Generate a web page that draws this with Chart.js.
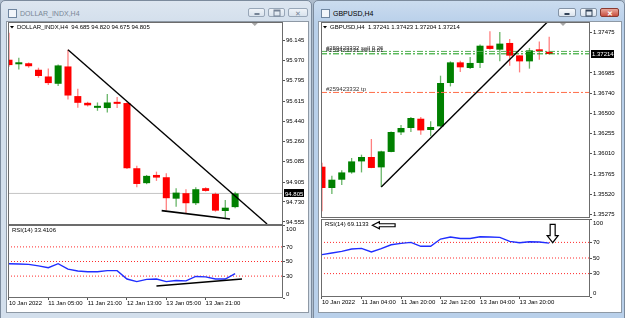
<!DOCTYPE html>
<html><head><meta charset="utf-8">
<script src="https://cdn.jsdelivr.net/npm/chart.js@4.4.1/dist/chart.umd.min.js"></script>
<style>
html,body{margin:0;padding:0;}
body{width:625px;height:318px;position:relative;overflow:hidden;background:#aebccc;font-family:"Liberation Sans",Arial,sans-serif;}
.win{position:absolute;box-sizing:border-box;border:1px solid #7c8b9d;border-radius:5px 5px 0 0;}
.win.inactive{background:linear-gradient(#dde6f0,#d3dfec 22px,#d3dfec);}
.win.active{background:linear-gradient(#cbdcef,#b9d0ea 22px,#b9d0ea);}
.client{position:absolute;background:#fff;box-sizing:border-box;border:1px solid #8e99a5;}
.title{position:absolute;top:8px;font-size:7px;line-height:9px;white-space:nowrap;}
.icon{position:absolute;top:8px;width:7px;height:7px;border:1px solid #6f86a0;background:#f2f6fb;}
.btn{position:absolute;top:7px;height:9px;box-sizing:border-box;border:1px solid #8393a6;border-radius:2px;background:linear-gradient(#f7f9fc,#dbe4ee);}
.btn.close{background:linear-gradient(#e8a79c,#c94f3f);border-color:#8a3a30;}
.win.inactive .btn{opacity:.75}
.glyph{position:absolute;left:50%;top:50%;transform:translate(-50%,-50%);}
canvas{position:absolute;}
</style>
</head><body>

<div class="win inactive" style="left:0;top:0;width:312px;height:322px;">
  <div class="icon" style="left:7px;"></div>
  <div class="title" style="left:19px;color:#7a8796;">DOLLAR_INDX,H4</div>
  <div class="btn" style="left:247px;width:17px;"><div class="glyph" style="width:5px;height:2px;background:#55657a;margin-top:1px;"></div></div>
  <div class="btn" style="left:267px;width:17px;"><div class="glyph" style="width:5px;height:4px;border:1px solid #55657a;border-top-width:2px;"></div></div>
  <div class="btn" style="left:287px;width:20px;"><div class="glyph" style="font-size:7px;color:#55657a;line-height:7px;">✕</div></div>
</div>
<div class="client" style="left:6px;top:21px;width:303px;height:292px;"></div>

<div class="win active" style="left:313px;top:0;width:312px;height:322px;">
  <div class="icon" style="left:7px;"></div>
  <div class="title" style="left:19px;color:#000;">GBPUSD,H4</div>
  <div class="btn" style="left:244px;width:18px;"><div class="glyph" style="width:5px;height:2px;background:#33445a;margin-top:1px;"></div></div>
  <div class="btn" style="left:266px;width:17px;"><div class="glyph" style="width:5px;height:4px;border:1px solid #33445a;border-top-width:2px;"></div></div>
  <div class="btn close" style="left:286px;width:19px;"><div class="glyph" style="font-size:7px;color:#fff;line-height:7px;font-weight:bold;">✕</div></div>
</div>
<div class="client" style="left:318px;top:21px;width:304px;height:292px;"></div>

<canvas id="mainL" width="300" height="203" style="left:8px;top:22px;"></canvas>
<canvas id="rsiL" width="300" height="86" style="left:8px;top:225px;"></canvas>
<canvas id="mainR" width="301" height="196" style="left:321px;top:22px;"></canvas>
<canvas id="rsiR" width="301" height="91" style="left:321px;top:219px;"></canvas>

<script>
// ---------------- DATA ----------------
// DOLLAR_INDX, H4
const usdxOpen  = [95.978,95.938,95.947,95.890,95.831,95.767,95.919,95.659,95.600,95.556,95.554,95.606,95.598,95.026,94.895,94.967,94.947,94.759,94.807,94.719,94.851,94.801,94.651,94.685];
const usdxHigh  = [96.215,95.996,95.954,95.908,95.902,95.937,96.066,95.723,95.609,95.603,95.677,95.650,95.605,95.047,94.967,94.996,94.982,94.851,94.842,94.859,94.859,94.812,94.748,94.820];
const usdxLow   = [95.917,95.893,95.908,95.820,95.756,95.747,95.629,95.556,95.568,95.530,95.515,95.554,95.020,94.859,94.886,94.915,94.656,94.689,94.631,94.704,94.821,94.645,94.587,94.675];
const usdxClose = [95.931,95.950,95.921,95.835,95.773,95.928,95.664,95.600,95.578,95.565,95.603,95.591,95.026,94.888,94.959,94.944,94.763,94.812,94.719,94.842,94.827,94.654,94.680,94.805];
const usdxRsi   = [47,46.5,46,44,41.5,47,39.5,37,36,36,37.5,37.5,26,22.5,25.5,26,22.5,24,23.5,29.5,29,26,26,33.4106];
const usdxPriceTicks = [96.145,95.970,95.795,95.615,95.440,95.260,95.085,94.905,94.730,94.555];
const usdxDateTicks  = [0,4,8,12,16,20];
const usdxDateLabels = ["10 Jan 2022","11 Jan 05:00","11 Jan 21:00","12 Jan 13:00","13 Jan 05:00","13 Jan 21:00"];
const usdxTrendUpper = [[6,96.066],[26.25,94.537]];
const usdxTrendLower = [[15.53,94.654],[22.48,94.581]];
const usdxRsiTrend   = [[15.0,16.5],[23.7,26]];

// GBPUSD, H4
const gbpOpen  = [1.35854,1.35597,1.35697,1.35785,1.35918,1.35971,1.35846,1.36032,1.36268,1.36321,1.36433,1.36297,1.36341,1.36864,1.37113,1.37045,1.37106,1.37314,1.37266,1.37347,1.37197,1.37125,1.37266,1.37241];
const gbpHigh  = [1.35902,1.35746,1.35810,1.35959,1.35999,1.36188,1.36047,1.36280,1.36357,1.36454,1.36454,1.36401,1.36952,1.37125,1.37133,1.37178,1.37327,1.37487,1.37480,1.37395,1.37200,1.37287,1.37366,1.37423];
const gbpLow   = [1.35315,1.35525,1.35633,1.35770,1.35785,1.35836,1.35609,1.36027,1.36237,1.36273,1.36240,1.36220,1.36333,1.36823,1.36997,1.37033,1.37045,1.37266,1.37125,1.37073,1.36992,1.37037,1.37146,1.37204];
const gbpClose = [1.35597,1.35697,1.35785,1.35918,1.35971,1.35839,1.36039,1.36273,1.36321,1.36442,1.36292,1.36333,1.36864,1.37113,1.37053,1.37106,1.37314,1.37275,1.37339,1.37194,1.37125,1.37258,1.37246,1.37214];
const gbpRsi   = [54.3,56.4,58.5,61.5,62.3,57.7,62,67,68.7,70,65,65,74.3,76.9,75,75,77.3,76.9,76.5,71.3,69.6,70.9,70.5,69.1133];
const gbpPriceTicks = [1.37475,1.36985,1.36740,1.36500,1.36255,1.36010,1.35765,1.35520,1.35275];
const gbpDateTicks  = [0,4,8,12,16,20];
const gbpDateLabels = ["10 Jan 2022","11 Jan 04:00","11 Jan 20:00","12 Jan 12:00","13 Jan 04:00","13 Jan 20:00"];
const gbpTrend = [[6,1.35609],[22.82,1.37600]];
const gbpOrderLevels = [1.37245,1.37216];
const gbpOrderLabels = ["#259423332 sell 0.26","#259423331 sell 0.01"];
const gbpTpLevel = 1.36750;
const gbpTpLabel = "#259423332 tp";
const rsiLevels = [70,50,30];
const rsiTicks  = [100,70,50,30,0];
const gbpArrowLeft = {x0:5.1, x1:7.4, y:92};
const gbpArrowDown = {x:23.35, y0:93, y1:69.6};

// ---------------- HELPERS ----------------
const FONT = '"Liberation Sans", Arial, sans-serif';
const RED = '#ff0000', GREEN = '#008000';

function candleSets(O,H,L,C){
  const up = O.map((o,i)=>C[i]>=o);
  return [
    {type:'bar', data:O.map((o,i)=>({x:i,y:[o,C[i]]})), backgroundColor:up.map(u=>u?GREEN:RED),
     borderWidth:0, barThickness:7, grouped:false, minBarLength:2, inflateAmount:0, order:2},
    {type:'bar', data:H.map((h,i)=>({x:i,y:[L[i],h]})), backgroundColor:up.map(u=>u?'rgba(40,150,40,0.7)':'rgba(255,60,60,0.65)'),
     borderWidth:0, barThickness:1.3, grouped:false, inflateAmount:0, order:3},
  ];
}
function seg(pts,color,width,dash,order){
  return {type:'line', data:pts.map(p=>({x:p[0],y:p[1]})), borderColor:color, borderWidth:width,
          borderDash:dash||[], pointRadius:0, fill:false, order:order===undefined?0:order};
}
function hline(v,xmin,xmax,color,dash,order){ return seg([[xmin,v],[xmax,v]],color,1,dash,order); }

const framePlugin = {
  id:'frame',
  afterDraw(chart){
    const a = chart.chartArea, c = chart.ctx;
    c.save(); c.strokeStyle = '#6c6c6c'; c.lineWidth = 1;
    c.strokeRect(Math.round(a.left)+0.5, Math.round(a.top)+0.5, Math.round(a.right-a.left)-1, Math.round(a.bottom-a.top)-1);
    c.restore();
  }
};
const notesPlugin = {
  id:'notes',
  afterDatasetsDraw(chart, args, o){
    const c = chart.ctx, a = chart.chartArea, xs = chart.scales.x, ys = chart.scales.y;
    c.save();
    c.font = '6px ' + FONT; c.textBaseline = 'middle'; c.textAlign = 'left';
    if (o.header){
      c.fillStyle = '#000';
      c.beginPath(); c.moveTo(a.left+2, a.top+4); c.lineTo(a.left+6, a.top+4); c.lineTo(a.left+4, a.top+6.5); c.closePath(); c.fill();
      c.fillText(o.header, a.left+9, a.top+5.5);
    }
    if (o.shift !== undefined){
      const x = xs.getPixelForValue(o.shift);
      c.fillStyle = '#a8a8a8';
      c.beginPath(); c.moveTo(x-3, a.top+1); c.lineTo(x+3, a.top+1); c.lineTo(x, a.top+4); c.closePath(); c.fill();
    }
    (o.labels||[]).forEach(l=>{
      c.fillStyle = '#333';
      c.fillText(l.text, a.left+5, ys.getPixelForValue(l.value)+ (l.dy||0));
    });
    if (o.priceBox){
      const y = ys.getPixelForValue(o.priceBox.value);
      c.fillStyle = '#000';
      c.fillRect(a.right+1, Math.round(y)-4, o.priceBox.w, 8);
      c.fillStyle = '#fff';
      c.fillText(o.priceBox.value.toFixed(o.priceBox.dec), a.right+2, y+0.5);
    }
    (o.arrows||[]).forEach(ar=>{
      c.fillStyle = '#fff'; c.strokeStyle = '#000'; c.lineWidth = 1.2;
      c.beginPath();
      if (ar.dir==='left'){
        const x0 = xs.getPixelForValue(ar.x0), x1 = xs.getPixelForValue(ar.x1), y = ys.getPixelForValue(ar.y);
        const hx = x0 + 7;
        c.moveTo(x0,y); c.lineTo(hx,y-3.5); c.lineTo(hx,y-1.5); c.lineTo(x1,y-1.5); c.lineTo(x1,y+1.5); c.lineTo(hx,y+1.5); c.lineTo(hx,y+3.5);
      } else {
        const x = xs.getPixelForValue(ar.x), y0 = ys.getPixelForValue(ar.y0), y1 = ys.getPixelForValue(ar.y1);
        const hy = y1 - 7;
        c.moveTo(x,y1); c.lineTo(x-5.5,hy); c.lineTo(x-2.5,hy); c.lineTo(x-2.5,y0); c.lineTo(x+2.5,y0); c.lineTo(x+2.5,hy); c.lineTo(x+5.5,hy);
      }
      c.closePath(); c.fill(); c.stroke();
    });
    if (o.rsiTitle){
      c.fillStyle = '#000';
      c.fillText(o.rsiTitle, a.left+4, a.top+5);
    }
    c.restore();
  }
};
// keep the end labels (100 and 0) of the RSI axis inside the pane, like the terminal does
const clampPlugin = {
  id:'clampLabels',
  beforeDraw(chart, args, o){
    if (!o.on) return;
    const s = chart.scales.y;
    s.getLabelItems().forEach(it=>{
      const t = it.options.translation;
      t[1] = Math.min(Math.max(t[1], s.top+4), s.bottom-4);
    });
  }
};

function yAxis(min,max,ticks,dec,width){
  return {type:'linear', position:'right', min, max,
    afterBuildTicks:s=>{ s.ticks = ticks.map(v=>({value:v})); },
    afterFit:s=>{ s.width = width; s.paddingTop = 0; s.paddingBottom = 0; },
    grid:{drawOnChartArea:false, drawTicks:true, tickLength:2, color:'#555', tickColor:'#555'},
    border:{display:false},
    ticks:{padding:1, crossAlign:'near', autoSkip:false, color:'#000', font:{family:FONT, size:6},
      callback:v=>Number(v).toFixed(dec)}};
}
function xAxisHidden(min,max){ return {type:'linear', min, max, offset:false, display:false}; }
function xAxisDates(min,max,ticks,labels){
  return {type:'linear', position:'bottom', min, max, offset:false,
    afterBuildTicks:s=>{ s.ticks = ticks.map(v=>({value:v})); },
    afterFit:s=>{ s.height = 13; s.paddingLeft = 0; s.paddingRight = 0; },
    grid:{drawOnChartArea:false, drawTicks:true, tickLength:2, color:'#555', tickColor:'#555', offset:false},
    border:{display:false},
    ticks:{padding:0, align:'start', autoSkip:false, maxRotation:0, color:'#000', font:{family:FONT, size:6, lineHeight:1},
      callback:v=>labels[ticks.indexOf(Math.round(v))] ?? ''}};
}
const base = {responsive:false, animation:false, devicePixelRatio:1, layout:{padding:0}, events:[]};

// ---------------- LEFT: DOLLAR_INDX ----------------
const LX = [-0.1, 27.87];
new Chart(document.getElementById('mainL'), {
  type:'bar',
  data:{datasets:[
    seg(usdxTrendUpper,'#000',1.4),
    seg(usdxTrendLower,'#000',1.6),
    ...candleSets(usdxOpen,usdxHigh,usdxLow,usdxClose),
    hline(usdxClose[usdxClose.length-1],LX[0],LX[1],'#c4c4c4',[],5)
  ]},
  options:{...base,
    scales:{x:xAxisHidden(LX[0],LX[1]), y:yAxis(94.528,96.309,usdxPriceTicks,3,25)},
    plugins:{legend:{display:false}, tooltip:{enabled:false},
      notes:{header:'DOLLAR_INDX,H4  94.685 94.820 94.675 94.805', shift:25.0,
        priceBox:{value:usdxClose[usdxClose.length-1], dec:3, w:20}}}},
  plugins:[framePlugin, notesPlugin]
});
new Chart(document.getElementById('rsiL'), {
  type:'line',
  data:{datasets:[
    seg(usdxRsiTrend,'#000',1.6),
    {type:'line', data:usdxRsi.map((v,i)=>({x:i,y:v})), borderColor:'#1f2dff', borderWidth:1.4, pointRadius:0, order:1},
    ...rsiLevels.map(l=>hline(l,LX[0],LX[1],'#ff2a2a',[1,2],4))
  ]},
  options:{...base,
    scales:{x:xAxisDates(LX[0],LX[1],usdxDateTicks,usdxDateLabels), y:yAxis(0,100,rsiTicks,0,25)},
    plugins:{legend:{display:false}, tooltip:{enabled:false}, clampLabels:{on:true},
      notes:{rsiTitle:'RSI(14) 33.4106'}}},
  plugins:[framePlugin, notesPlugin, clampPlugin]
});

// ---------------- RIGHT: GBPUSD ----------------
const RX = [-0.1, 27.13];
new Chart(document.getElementById('mainR'), {
  type:'bar',
  data:{datasets:[
    seg(gbpTrend,'#000',1.4),
    ...candleSets(gbpOpen,gbpHigh,gbpLow,gbpClose),
    hline(gbpOrderLevels[0],RX[0],RX[1],'#55b055',[6,2,2,2],1),
    hline(gbpOrderLevels[1],RX[0],RX[1],'#109a10',[6,2,2,2],1),
    hline(gbpTpLevel,RX[0],RX[1],'#ff6e4a',[6,2,2,2],1)
  ]},
  options:{...base,
    scales:{x:xAxisHidden(RX[0],RX[1]), y:yAxis(1.35235,1.37600,gbpPriceTicks,5,32)},
    plugins:{legend:{display:false}, tooltip:{enabled:false},
      notes:{header:'GBPUSD,H4  1.37241 1.37423 1.37204 1.37214', shift:24.4,
        labels:[{text:gbpOrderLabels[0], value:gbpOrderLevels[0], dy:-3},
                {text:gbpOrderLabels[1], value:gbpOrderLevels[0], dy:-1.5},
                {text:gbpTpLabel, value:gbpTpLevel, dy:-3}],
        priceBox:{value:gbpClose[gbpClose.length-1], dec:5, w:23}}}},
  plugins:[framePlugin, notesPlugin]
});
new Chart(document.getElementById('rsiR'), {
  type:'line',
  data:{datasets:[
    {type:'line', data:gbpRsi.map((v,i)=>({x:i,y:v})), borderColor:'#1f2dff', borderWidth:1.4, pointRadius:0, order:1},
    ...rsiLevels.map(l=>hline(l,RX[0],RX[1],'#ff2a2a',[1,2],4))
  ]},
  options:{...base,
    scales:{x:xAxisDates(RX[0],RX[1],gbpDateTicks,gbpDateLabels), y:yAxis(0,100,rsiTicks,0,32)},
    plugins:{legend:{display:false}, tooltip:{enabled:false}, clampLabels:{on:true},
      notes:{rsiTitle:'RSI(14) 69.1133',
        arrows:[{dir:'left', ...gbpArrowLeft},{dir:'down', ...gbpArrowDown}]}}},
  plugins:[framePlugin, notesPlugin, clampPlugin]
});
</script>
</body></html>
